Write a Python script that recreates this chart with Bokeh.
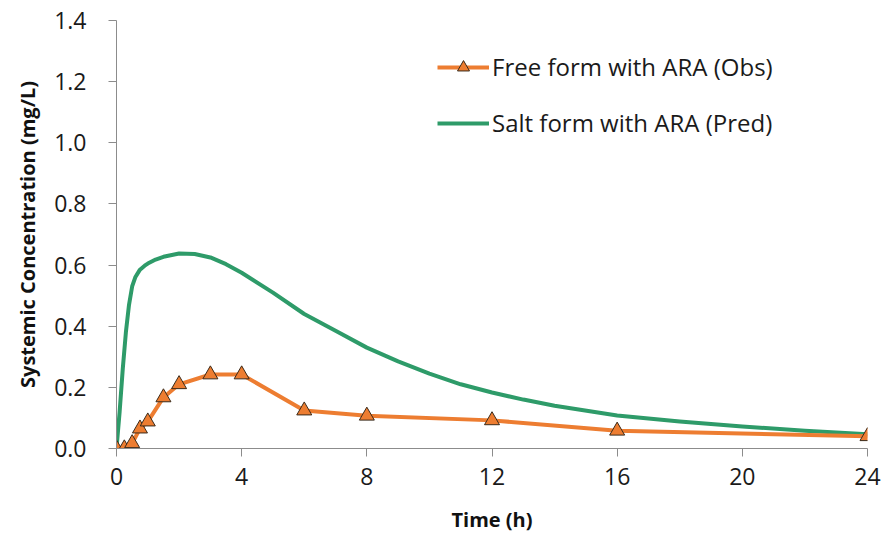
from bokeh.plotting import figure
from bokeh.models import Range1d, FixedTicker, Legend, LegendItem, CustomJSTickFormatter
from bokeh.embed import file_html
from bokeh.resources import INLINE

# Observed: free form with ARA
obs_time = [0, 0.25, 0.5, 0.75, 1, 1.5, 2, 3, 4, 6, 8, 12, 16, 24]
obs_conc = [0.0, 0.0, 0.017, 0.065, 0.088, 0.167, 0.21, 0.242, 0.242, 0.124, 0.107, 0.092, 0.058, 0.04]

# Predicted: salt form with ARA
pred_time = [0, 0.1, 0.2, 0.3, 0.4, 0.5, 0.6, 0.75, 0.9, 1, 1.25, 1.5, 2, 2.5, 3, 3.5, 4, 5, 6, 7,
             8, 9, 10, 11, 12, 13, 14, 16, 18, 20, 22, 24]
pred_conc = [0.0, 0.12, 0.26, 0.38, 0.47, 0.53, 0.56, 0.585, 0.598, 0.605, 0.618, 0.627, 0.638,
             0.636, 0.625, 0.603, 0.575, 0.51, 0.44, 0.385, 0.33, 0.285, 0.245, 0.21, 0.183,
             0.16, 0.14, 0.108, 0.088, 0.072, 0.058, 0.047]

x_ticks = [0, 4, 8, 12, 16, 20, 24]
y_ticks = [0.0, 0.2, 0.4, 0.6, 0.8, 1.0, 1.2, 1.4]

ORANGE = "#ED7D31"
GREEN = "#2E9B69"
FONT = "Open Sans"

p = figure(width=889, height=537, output_backend="svg", toolbar_location=None,
           x_range=Range1d(0, 24), y_range=Range1d(0, 1.4))
p.min_border_left = 116
p.min_border_right = 22
p.min_border_top = 20
p.min_border_bottom = 89
p.outline_line_color = None
p.xgrid.grid_line_color = None
p.ygrid.grid_line_color = None
p.background_fill_color = "white"
p.border_fill_color = "white"

g_line = p.line(pred_time, pred_conc, line_color=GREEN, line_width=4, line_join="round")
o_line = p.line(obs_time, obs_conc, line_color=ORANGE, line_width=4, line_join="round")
o_pts = p.scatter(obs_time, obs_conc, marker="triangle", size=15, fill_color=ORANGE,
                  line_color="#3a2a1a", line_width=1)

for ax in (p.xaxis[0], p.yaxis[0]):
    ax.axis_line_color = "#8c8c8c"
    ax.major_tick_line_color = "#8c8c8c"
    ax.major_tick_out = 8
    ax.major_tick_in = 0
    ax.minor_tick_line_color = None
    ax.major_label_text_font = FONT
    ax.major_label_text_font_size = "23px"
    ax.major_label_text_color = "#1a1a1a"
    ax.axis_label_text_font = FONT
    ax.axis_label_text_font_style = "bold"
    ax.axis_label_text_font_size = "20px"
    ax.axis_label_text_color = "#111111"

p.xaxis.ticker = FixedTicker(ticks=x_ticks)
p.yaxis.ticker = FixedTicker(ticks=y_ticks)
p.yaxis.formatter = CustomJSTickFormatter(code="return tick.toFixed(1);")
p.xaxis.axis_label = "Time (h)"
p.yaxis.axis_label = "Systemic Concentration (mg/L)"
p.xaxis.major_label_standoff = 11
p.yaxis.major_label_standoff = 22
p.xaxis.axis_label_standoff = 18
p.yaxis.axis_label_standoff = 10

legend = Legend(items=[
    LegendItem(label="Free form with ARA (Obs)", renderers=[o_line, o_pts]),
    LegendItem(label="Salt form with ARA (Pred)", renderers=[g_line]),
], location=(321, 309))
legend.border_line_color = None
legend.background_fill_alpha = 0
legend.label_text_font = FONT
legend.label_text_font_size = "24px"
legend.label_text_color = "#1a1a1a"
legend.glyph_width = 52
legend.glyph_height = 30
legend.label_height = 30
legend.spacing = 23
legend.label_standoff = 3
p.add_layout(legend)

open("out.html", "w").write(file_html(p, INLINE))
